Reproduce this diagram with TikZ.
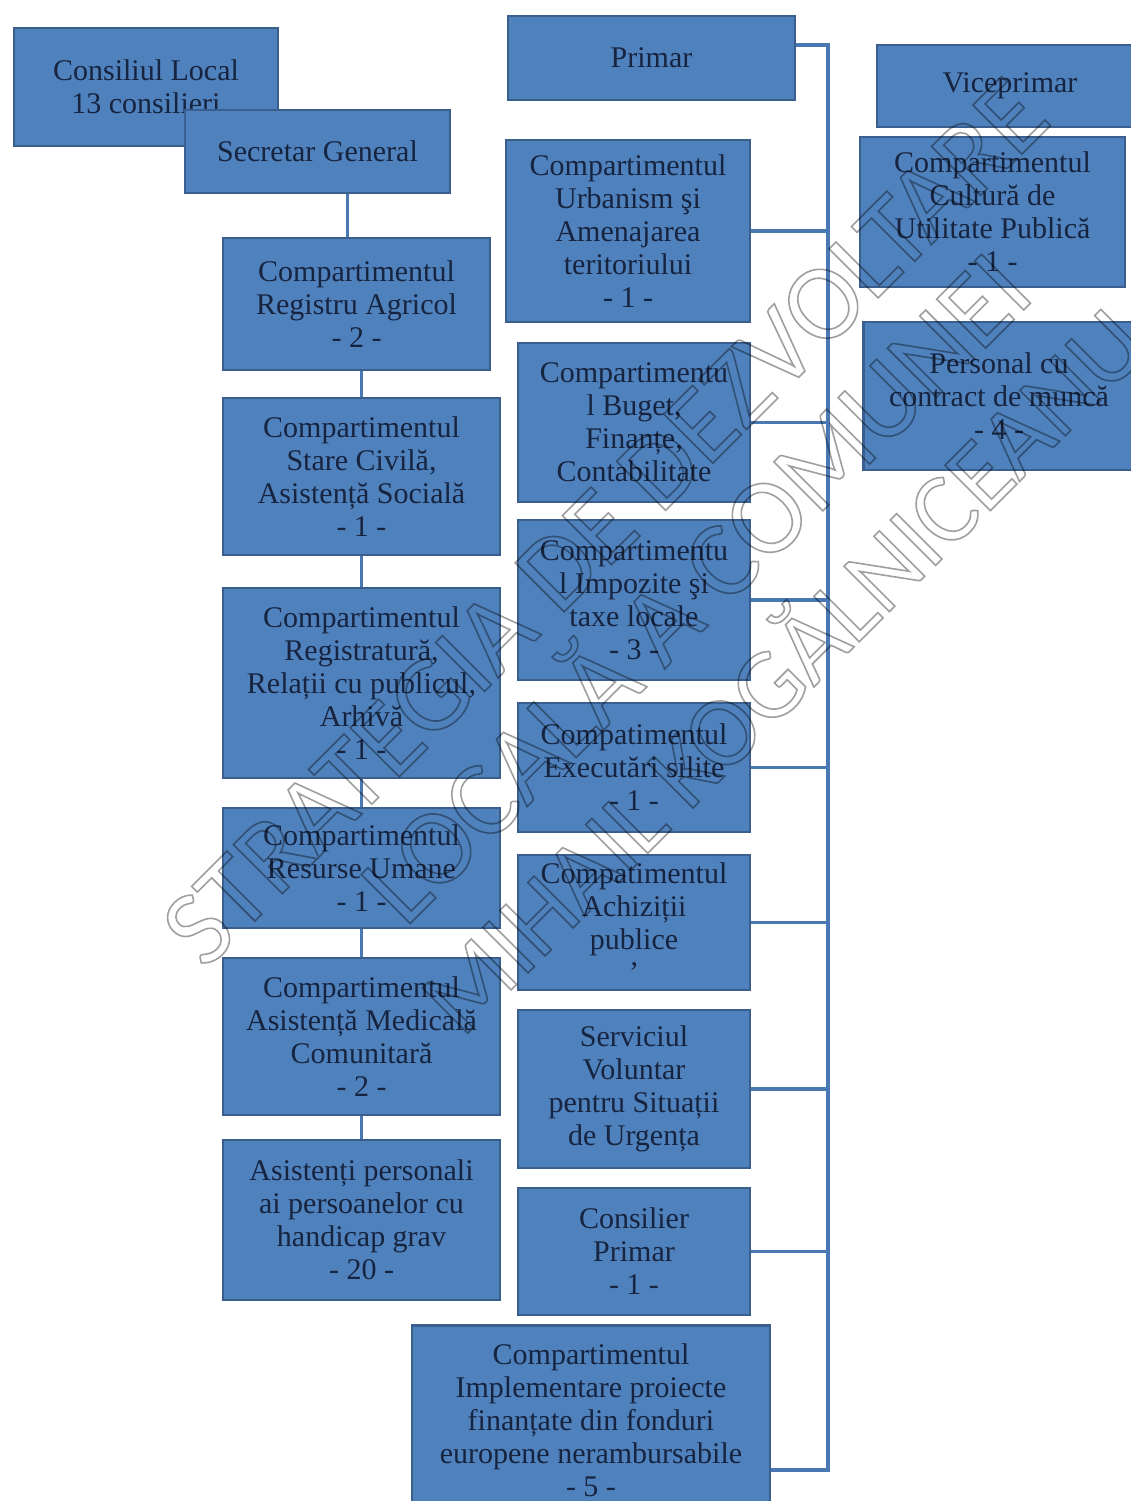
\documentclass[tikz,border=0pt]{standalone}
\usepackage{fontspec}
\setmainfont{Liberation Serif}
\newfontfamily\wmfont{Carlito}
\definecolor{boxblue}{HTML}{4F81BD}
\definecolor{boxedge}{HTML}{3A5F8E}
\definecolor{boxtext}{HTML}{17243F}
\definecolor{linkblue}{HTML}{4A78B3}
\newcommand\outlinetext[1]{\special{pdf:literal direct 1 Tr 0.8 w}#1\special{pdf:literal direct 0 Tr}}
\tikzset{
	box/.style={draw=boxedge, fill=boxblue, line width=1.2pt, text=boxtext, align=center, inner sep=0pt, font=\fontsize{15}{16.5}\selectfont},
	sz/.style 2 args={minimum width=#1*0.5pt, minimum height=#2*0.5pt},
	link/.style={draw=linkblue, line width=1.6pt},
	wm/.style={rotate=45, text=gray!75, font=\wmfont\fontsize{54}{54}\selectfont}
}
\begin{document}
\begin{tikzpicture}[x=0.5pt, y=-0.5pt]
		\useasboundingbox (0,0) rectangle (1131,1501);
		\fill[white] (0,0) rectangle (1131,1501);

		\node[box, sz={264}{118}] (consiliu) at (146,87) {Consiliul Local\\13 consilieri};
		\node[box, sz={265}{83}] (secgen) at (317.5,151.5) {Secretar General};
		\node[box, sz={287}{84}] (primar) at (651.5,58) {Primar};
		\node[box, sz={266}{82}] (vice) at (1010,86) {Viceprimar};
		\node[box, sz={265}{150}] (cultura) at (992.5,212) {Compartimentul\\Cultură de\\Utilitate Publică\\- 1 -};
		\node[box, sz={271}{148}] (personal) at (999,396) {Personal cu\\contract de muncă\\- 4 -};

		\node[box, sz={267}{132}] (regagr) at (356.5,304) {Compartimentul\\Registru Agricol\\- 2 -};
		\node[box, sz={277}{157}] (stciv) at (361.5,476.5) {Compartimentul\\Stare Civilă,\\Asistență Socială\\- 1 -};
		\node[box, sz={277}{190}] (registr) at (361.5,683) {Compartimentul\\Registratură,\\Relații cu publicul,\\Arhivă\\- 1 -};
		\node[box, sz={277}{120}] (resurse) at (361.5,868) {Compartimentul\\Resurse Umane\\- 1 -};
		\node[box, sz={277}{157}] (medic) at (361.5,1036.5) {Compartimentul\\Asistență Medicală\\Comunitară\\- 2 -};
		\node[box, sz={277}{160}] (asist) at (361.5,1220) {Asistenți personali\\ai persoanelor cu\\handicap grav\\- 20 -};

		\node[box, sz={244}{182}] (urban) at (628,231) {Compartimentul\\Urbanism şi\\Amenajarea\\teritoriului\\- 1 -};
		\node[box, sz={232}{159}] (buget) at (634,422.5) {Compartimentu\\l Buget,\\Finanțe,\\Contabilitate};
		\node[box, sz={232}{160}] (impoz) at (634,600) {Compartimentu\\l Impozite şi\\taxe locale\\- 3 -};
		\node[box, sz={232}{129}] (exec) at (634,767.5) {Compatimentul\\Executări silite\\- 1 -};
		\node[box, sz={232}{135}] (achiz) at (634,922.5) {Compatimentul\\Achiziții\\publice\\'};
		\node[box, sz={232}{158}] (volunt) at (634,1089) {Serviciul\\Voluntar\\pentru Situații\\de Urgența};
		\node[box, sz={232}{127}] (consil) at (634,1251.5) {Consilier\\Primar\\- 1 -};
		\node[box, sz={358}{189}] (implem) at (591,1420) {Compartimentul\\Implementare proiecte\\finanțate din fonduri\\europene nerambursabile\\- 5 -};

		\coordinate (bustop) at (828,45);
		\coordinate (busbot) at (828,1470);
		\draw[link] (primar.east |- bustop) -- (bustop) -- (busbot) -- (implem.east |- busbot);
		\foreach \n in {urban,buget,impoz,exec,achiz,volunt,consil}
			\draw[link] (\n.east) -- (\n.east -| bustop);

		\draw[link] ([xshift=-4.5pt]regagr.north) -- ([xshift=-4.5pt]regagr.north |- secgen.south);
		\foreach \a/\b in {regagr/stciv,stciv/registr,registr/resurse,resurse/medic,medic/asist}
			\draw[link] (\b.north) -- (\b.north |- \a.south);

		\begin{scope}[blend mode=multiply]
			\node[wm] (wm1) at (605,522) {\outlinetext{STRATEGIA DE DEZVOLTARE}};
			\node[wm] (wm2) at (690,582) {\outlinetext{LOCALĂ A COMUNEI}};
			\node[wm, font=\wmfont\fontsize{50}{50}\selectfont] (wm3) at (778,666) {\outlinetext{MIHAIL KOGĂLNICEANU}};
		\end{scope}

	\end{tikzpicture}
\end{document}
